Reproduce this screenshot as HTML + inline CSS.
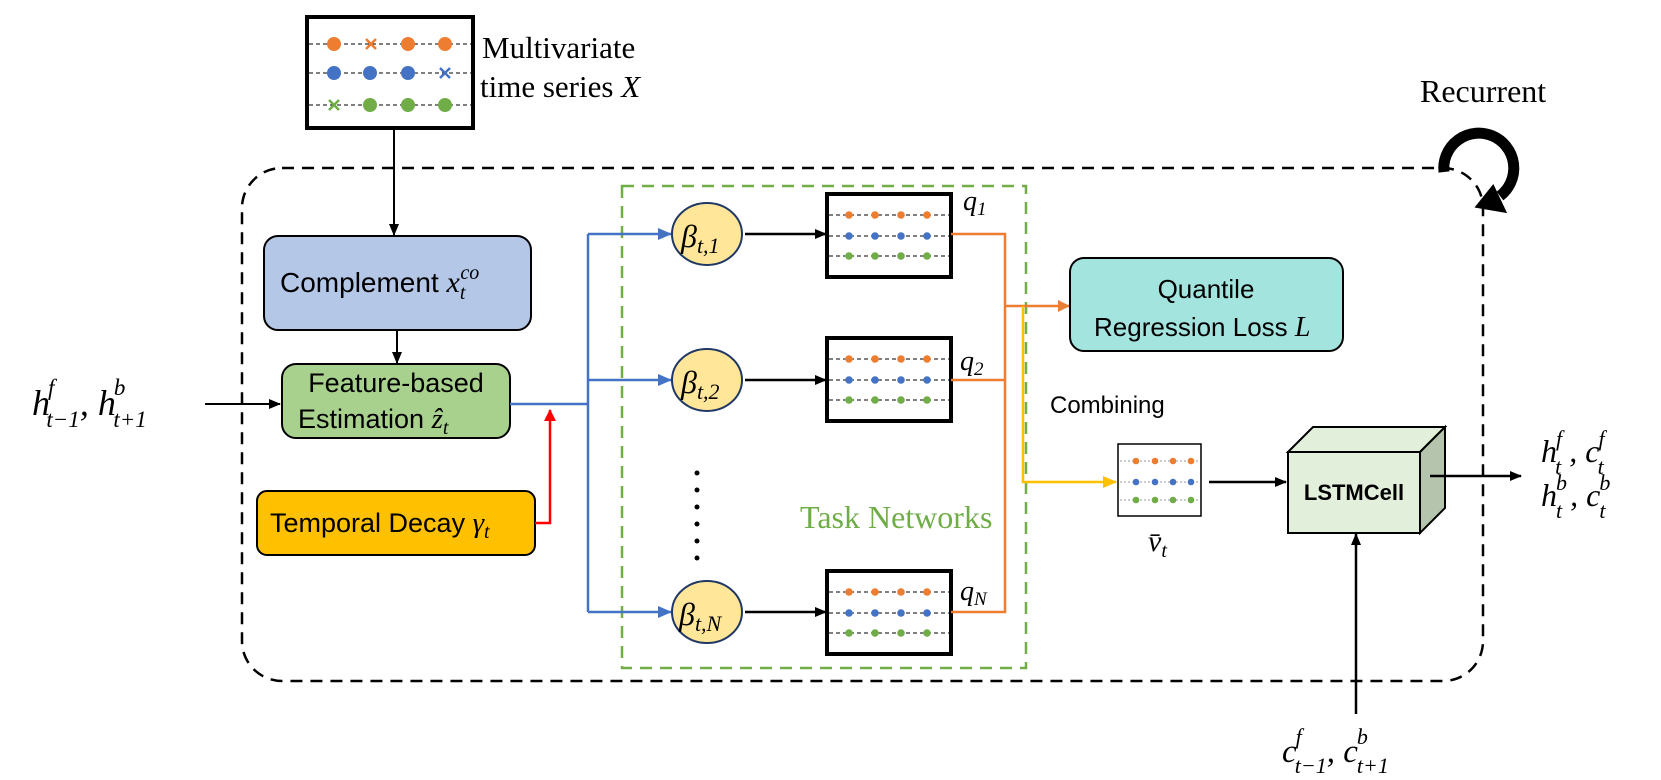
<!DOCTYPE html>
<html><head><meta charset="utf-8"><style>
html,body{margin:0;padding:0;background:#fff;}
svg{display:block;}
.m{font-family:"Liberation Serif",serif;font-style:italic;}
.s{font-family:"Liberation Sans",sans-serif;}
</style></head><body>
<svg width="1661" height="780" viewBox="0 0 1661 780" xmlns="http://www.w3.org/2000/svg">
<defs>
<marker id="ak" markerWidth="12" markerHeight="10" refX="11" refY="5" orient="auto" markerUnits="userSpaceOnUse"><path d="M0,0 L12,5 L0,10 z" fill="#000"/></marker>
<marker id="ab" markerWidth="14" markerHeight="12" refX="13" refY="6" orient="auto" markerUnits="userSpaceOnUse"><path d="M0,0 L14,6 L0,12 z" fill="#4472c4"/></marker>
<marker id="ar" markerWidth="12" markerHeight="12" refX="11" refY="6" orient="auto" markerUnits="userSpaceOnUse"><path d="M0,0 L12,6 L0,12 z" fill="#ff0000"/></marker>
<marker id="ao" markerWidth="12" markerHeight="12" refX="11" refY="6" orient="auto" markerUnits="userSpaceOnUse"><path d="M0,0 L12,6 L0,12 z" fill="#ed7d31"/></marker>
<marker id="ay" markerWidth="14" markerHeight="12" refX="13" refY="6" orient="auto" markerUnits="userSpaceOnUse"><path d="M0,0 L14,6 L0,12 z" fill="#ffc000"/></marker>
</defs>

<rect x="242" y="168" width="1241" height="513" rx="40" fill="none" stroke="#000" stroke-width="2.5" stroke-dasharray="12,8"/>
<rect x="622" y="186" width="404" height="482" fill="none" stroke="#70ad47" stroke-width="2.5" stroke-dasharray="12,8"/>

<rect x="307" y="17" width="166" height="111" fill="#fff" stroke="#000" stroke-width="4"/>
<g stroke="#000" stroke-width="1" stroke-dasharray="4,3">
<line x1="309" y1="44" x2="471" y2="44"/><line x1="309" y1="73" x2="471" y2="73"/><line x1="309" y1="105" x2="471" y2="105"/>
</g>
<g fill="#ed7d31"><circle cx="334" cy="44" r="7"/><circle cx="408" cy="44" r="7"/><circle cx="445" cy="44" r="7"/></g>
<path d="M366,39 l10,10 M376,39 l-10,10" stroke="#ed7d31" stroke-width="2.5"/>
<g fill="#4472c4"><circle cx="334" cy="73" r="7"/><circle cx="370" cy="73" r="7"/><circle cx="408" cy="73" r="7"/></g>
<path d="M440,68 l10,10 M450,68 l-10,10" stroke="#4472c4" stroke-width="2.5"/>
<g fill="#70ad47"><circle cx="370" cy="105" r="7"/><circle cx="408" cy="105" r="7"/><circle cx="445" cy="105" r="7"/></g>
<path d="M329,100 l10,10 M339,100 l-10,10" stroke="#70ad47" stroke-width="2.5"/>
<text x="482" y="58" font-family="Liberation Serif,serif" font-size="31">Multivariate</text>
<text x="480" y="97" font-family="Liberation Serif,serif" font-size="31">time series <tspan font-style="italic">X</tspan></text>
<line x1="394" y1="128" x2="394" y2="235" stroke="#000" stroke-width="2" marker-end="url(#ak)"/>

<text x="1420" y="102" font-family="Liberation Serif,serif" font-size="32">Recurrent</text>
<g transform="translate(-16,0)">
<path d="M1460,172 A35,35 0 1 1 1516,196" fill="none" stroke="#000" stroke-width="11"/>
<path d="M1498,188 L1526,204 L1496,218 z" fill="#000" transform="rotate(35 1510 204)"/>
</g>

<rect x="264" y="236" width="267" height="94" rx="14" fill="#b4c7e7" stroke="#000" stroke-width="2"/>
<text x="280" y="292" class="s" font-size="28">Complement <tspan class="m" font-size="30">x</tspan><tspan class="m" font-size="20" dy="7">t</tspan><tspan class="m" font-size="20" dy="-20" dx="-5">co</tspan></text>
<line x1="397" y1="330" x2="397" y2="363" stroke="#000" stroke-width="2" marker-end="url(#ak)"/>

<rect x="282" y="364" width="228" height="74" rx="14" fill="#a9d18e" stroke="#000" stroke-width="2"/>
<text x="396" y="392" text-anchor="middle" class="s" font-size="27">Feature-based</text>
<text x="298" y="428" class="s" font-size="27">Estimation <tspan class="m" font-size="29">ẑ</tspan><tspan class="m" font-size="20" dy="6">t</tspan></text>

<text x="32" y="415" class="m" font-size="36">h<tspan font-size="23" dy="-20" dx="-2">f</tspan><tspan font-size="23" dy="32" dx="-8">t−1</tspan><tspan font-size="36" dy="-12">, h</tspan><tspan font-size="23" dy="-20" dx="-2">b</tspan><tspan font-size="23" dy="32" dx="-12">t+1</tspan></text>
<line x1="205" y1="404" x2="280" y2="404" stroke="#000" stroke-width="2" marker-end="url(#ak)"/>

<rect x="257" y="491" width="278" height="64" rx="10" fill="#ffc000" stroke="#000" stroke-width="2"/>
<text x="270" y="532" class="s" font-size="27">Temporal Decay <tspan class="m" font-size="29">γ</tspan><tspan class="m" font-size="20" dy="6">t</tspan></text>
<polyline points="535,523 550,523 550,410" fill="none" stroke="#ff0000" stroke-width="2.5" marker-end="url(#ar)"/>

<polyline points="510,404 588,404" fill="none" stroke="#4472c4" stroke-width="2.5"/>
<line x1="588" y1="234" x2="588" y2="612" stroke="#4472c4" stroke-width="2.5"/>
<line x1="588" y1="234" x2="671" y2="234" stroke="#4472c4" stroke-width="2.5" marker-end="url(#ab)"/>
<line x1="588" y1="380" x2="671" y2="380" stroke="#4472c4" stroke-width="2.5" marker-end="url(#ab)"/>
<line x1="588" y1="612" x2="671" y2="612" stroke="#4472c4" stroke-width="2.5" marker-end="url(#ab)"/>

<g fill="#ffe699" stroke="#1f3864" stroke-width="2">
<ellipse cx="707" cy="234" rx="35" ry="31"/><ellipse cx="707" cy="380" rx="35" ry="31"/><ellipse cx="707" cy="612" rx="35" ry="31"/>
</g>
<g class="m" font-size="32">
<text x="681" y="247">β<tspan font-size="22" dy="6">t,1</tspan></text>
<text x="681" y="393">β<tspan font-size="22" dy="6">t,2</tspan></text>
<text x="679" y="625">β<tspan font-size="22" dy="6">t,N</tspan></text>
</g>
<g fill="#000"><circle cx="697" cy="473" r="2.5"/><circle cx="697" cy="490" r="2.5"/><circle cx="697" cy="507" r="2.5"/><circle cx="697" cy="524" r="2.5"/><circle cx="697" cy="541" r="2.5"/><circle cx="697" cy="558" r="2.5"/></g>
<text x="800" y="528" font-family="Liberation Serif,serif" font-size="32" fill="#70ad47">Task Networks</text>

<line x1="745" y1="234" x2="826" y2="234" stroke="#000" stroke-width="2.5" marker-end="url(#ak)"/>
<line x1="745" y1="380" x2="826" y2="380" stroke="#000" stroke-width="2.5" marker-end="url(#ak)"/>
<line x1="745" y1="612" x2="826" y2="612" stroke="#000" stroke-width="2.5" marker-end="url(#ak)"/>

<g id="sb">
<rect x="827" y="194" width="124" height="83" fill="#fff" stroke="#000" stroke-width="4"/>
<g stroke="#000" stroke-width="1" stroke-dasharray="4,3"><line x1="829" y1="215" x2="949" y2="215"/><line x1="829" y1="236" x2="949" y2="236"/><line x1="829" y1="256" x2="949" y2="256"/></g>
<g fill="#ed7d31"><circle cx="849" cy="215" r="3.8"/><circle cx="875" cy="215" r="3.8"/><circle cx="901" cy="215" r="3.8"/><circle cx="927" cy="215" r="3.8"/></g>
<g fill="#4472c4"><circle cx="849" cy="236" r="3.8"/><circle cx="875" cy="236" r="3.8"/><circle cx="901" cy="236" r="3.8"/><circle cx="927" cy="236" r="3.8"/></g>
<g fill="#70ad47"><circle cx="849" cy="256" r="3.8"/><circle cx="875" cy="256" r="3.8"/><circle cx="901" cy="256" r="3.8"/><circle cx="927" cy="256" r="3.8"/></g>
</g>
<use href="#sb" y="144"/>
<use href="#sb" y="377"/>

<g class="m" font-size="28">
<text x="963" y="210">q<tspan font-size="19" dy="5">1</tspan></text>
<text x="960" y="370">q<tspan font-size="19" dy="5">2</tspan></text>
<text x="960" y="600">q<tspan font-size="19" dy="5">N</tspan></text>
</g>

<polyline points="951,234 1005,234 1005,612 951,612" fill="none" stroke="#ed7d31" stroke-width="2.5"/>
<line x1="951" y1="380" x2="1005" y2="380" stroke="#ed7d31" stroke-width="2.5"/>
<line x1="1005" y1="306" x2="1069" y2="306" stroke="#ed7d31" stroke-width="2.5" marker-end="url(#ao)"/>

<rect x="1070" y="258" width="273" height="93" rx="14" fill="#a3e4df" stroke="#000" stroke-width="2"/>
<text x="1206" y="298" text-anchor="middle" class="s" font-size="26">Quantile</text>
<text x="1094" y="336" class="s" font-size="26">Regression Loss <tspan class="m" font-size="28">L</tspan></text>

<polyline points="1023,306 1023,482 1116,482" fill="none" stroke="#ffc000" stroke-width="2.5" marker-end="url(#ay)"/>
<text x="1050" y="413" class="s" font-size="24">Combining</text>

<rect x="1118" y="444" width="83" height="72" fill="#fff" stroke="#000" stroke-width="1.5"/>
<g stroke="#999" stroke-width="1" stroke-dasharray="2,2"><line x1="1120" y1="461" x2="1199" y2="461"/><line x1="1120" y1="482" x2="1199" y2="482"/><line x1="1120" y1="500" x2="1199" y2="500"/></g>
<g fill="#ed7d31"><circle cx="1136" cy="461" r="3.3"/><circle cx="1155" cy="461" r="3.3"/><circle cx="1173" cy="461" r="3.3"/><circle cx="1191" cy="461" r="3.3"/></g>
<g fill="#4472c4"><circle cx="1136" cy="482" r="3.3"/><circle cx="1155" cy="482" r="3.3"/><circle cx="1173" cy="482" r="3.3"/><circle cx="1191" cy="482" r="3.3"/></g>
<g fill="#70ad47"><circle cx="1136" cy="500" r="3.3"/><circle cx="1155" cy="500" r="3.3"/><circle cx="1173" cy="500" r="3.3"/><circle cx="1191" cy="500" r="3.3"/></g>
<text x="1148" y="551" class="m" font-size="30">v̄<tspan font-size="20" dy="6">t</tspan></text>

<line x1="1209" y1="482" x2="1286" y2="482" stroke="#000" stroke-width="2.5" marker-end="url(#ak)"/>

<polygon points="1288,452 1313,427 1445,427 1420,452" fill="#e2efda" stroke="#000" stroke-width="2"/>
<polygon points="1420,452 1445,427 1445,508 1420,533" fill="#b5c4ad" stroke="#000" stroke-width="2"/>
<rect x="1288" y="452" width="132" height="81" fill="#e2efda" stroke="#000" stroke-width="2"/>
<text x="1354" y="500" text-anchor="middle" class="s" font-size="22" font-weight="bold">LSTMCell</text>
<line x1="1430" y1="476" x2="1521" y2="476" stroke="#000" stroke-width="2.5" marker-end="url(#ak)"/>

<g class="m" font-size="32">
<text x="1541" y="462">h<tspan font-size="22" dy="-16" dx="-1">f</tspan><tspan font-size="22" dy="28" dx="-7">t</tspan><tspan dy="-12"> , c</tspan><tspan font-size="22" dy="-16" dx="-1">f</tspan><tspan font-size="22" dy="28" dx="-7">t</tspan></text>
<text x="1541" y="506">h<tspan font-size="22" dy="-16" dx="-1">b</tspan><tspan font-size="22" dy="28" dx="-11">t</tspan><tspan dy="-12"> , c</tspan><tspan font-size="22" dy="-16" dx="-1">b</tspan><tspan font-size="22" dy="28" dx="-11">t</tspan></text>
</g>

<line x1="1356" y1="714" x2="1356" y2="534" stroke="#000" stroke-width="2.5" marker-end="url(#ak)"/>
<text x="1282" y="762" class="m" font-size="33">c<tspan font-size="22" dy="-18" dx="-1">f</tspan><tspan font-size="22" dy="29" dx="-7">t−1</tspan><tspan dy="-11">, c</tspan><tspan font-size="22" dy="-18" dx="-1">b</tspan><tspan font-size="22" dy="29" dx="-11">t+1</tspan></text>
</svg>
</body></html>
